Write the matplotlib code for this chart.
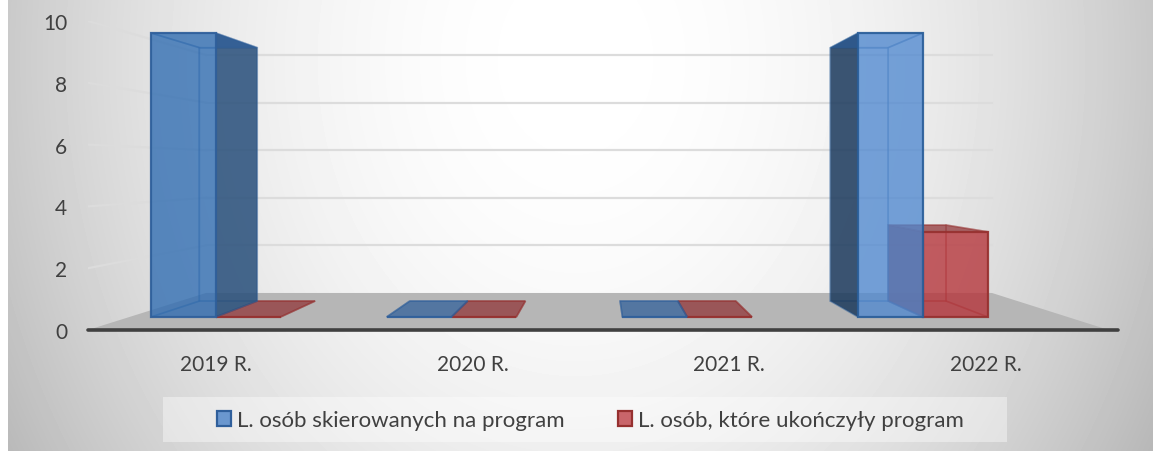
import matplotlib
matplotlib.use("Agg")
import matplotlib.pyplot as plt
import numpy as np
from matplotlib.patches import Patch, Polygon, Rectangle

plt.rcParams["font.family"] = ["Lato", "DejaVu Sans"]

# Data
categories = ["2019 R.", "2020 R.", "2021 R.", "2022 R."]
skierowani = [10, 0, 0, 10]
ukonczyli = [0, 0, 0, 3]
y_ticks = [0, 2, 4, 6, 8, 10]
series_names = ["L. osób skierowanych na program", "L. osób, które ukończyły program"]

W, H = 1153, 452
TEXT = "#404040"

# Perspective: everything shrinks towards a vanishing point (in axes data units)
VP_X, VP_Y = 2.0, 5.21
S_WALL = 0.77
S_BAR_FRONT = 0.919
S_BAR_BACK = 0.82
BAR_W = 0.275
GROUP_OFFSET = 0.366


def project(x, v, s):
    return (VP_X + (x - VP_X) * s, VP_Y + (v - VP_Y) * s)


def draw_bar(ax, x0, value, front, side, top, edge):
    x1 = x0 + BAR_W
    fr = [project(x, v, S_BAR_FRONT) for x, v in [(x0, 0), (x1, 0), (x1, value), (x0, value)]]
    bk = [project(x, v, S_BAR_BACK) for x, v in [(x0, 0), (x1, 0), (x1, value), (x0, value)]]
    left = [fr[0], bk[0], bk[3], fr[3]]
    right = [fr[1], bk[1], bk[2], fr[2]]
    near, far = (right, left) if x1 < VP_X else (left, right)
    roof = [fr[3], fr[2], bk[2], bk[3]]
    faces = [
        (bk, front, 0.1),
        (far, front, 0.1),
        ([fr[0], fr[1], bk[1], bk[0]], front, 0.1),
        (near, side, 0.85),
    ]
    for pts, color, alpha in faces:
        ax.add_patch(Polygon(pts, closed=True, facecolor=color, edgecolor="none", alpha=alpha, zorder=3))
        ax.add_patch(Polygon(pts, closed=True, fill=False, edgecolor=edge, lw=1.2, alpha=0.3, zorder=3))

    # roof: when it is above eye level only the part outside the front face looks dark
    dark = Polygon(roof, closed=True, facecolor=top, edgecolor="none", alpha=0.7, zorder=3)
    ax.add_patch(dark)
    if value > VP_Y:
        dark.set_alpha(0.7)
        if x1 < VP_X:
            clip = Rectangle((fr[2][0], 0), 1, 10, transform=ax.transData)
        else:
            clip = Rectangle((fr[3][0] - 1, 0), 1, 10, transform=ax.transData)
        dark.set_clip_path(clip)
        ax.add_patch(Polygon(roof, closed=True, facecolor=top, edgecolor="none", alpha=0.12, zorder=3))
    ax.add_patch(Polygon(roof, closed=True, fill=False, edgecolor=edge, lw=1.2, alpha=0.4, zorder=3))

    ax.add_patch(Polygon(fr, closed=True, facecolor=front, edgecolor="none", alpha=0.75, zorder=3))
    ax.add_patch(Polygon(fr, closed=True, fill=False, edgecolor=edge, lw=1.6, alpha=0.9, zorder=3))


fig = plt.figure(figsize=(W / 100, H / 100), dpi=100, facecolor="white")

# Background gradient
bg = fig.add_axes([0, 0, 1, 1], zorder=0)
yy, xx = np.mgrid[0:H, 0:W]
r = np.sqrt(((xx - 575) / 570.0) ** 2 + ((yy - 60) / 700.0) ** 2)
shade = np.clip(1 - 0.21 * r ** 2, 0, 1)
shade[:, :8] = 1
bg.imshow(shade, cmap="gray", vmin=0, vmax=1, extent=(0, W, H, 0), aspect="auto")
bg.add_patch(Rectangle((163, 398), 844, 45, facecolor="white", alpha=0.4, edgecolor="none"))
bg.axis("off")

# Main axes
ax = fig.add_axes([88 / W, 1 - 331 / H, (1118 - 88) / W, 309 / H], zorder=1)
ax.patch.set_alpha(0)
ax.set_xlim(0, 4.016)
ax.set_ylim(0, 10)
for name in ["top", "right", "left"]:
    ax.spines[name].set_visible(False)
ax.spines["bottom"].set_linewidth(2.6)
ax.spines["bottom"].set_color("#404040")
ax.spines["bottom"].set_capstyle("round")
ax.set_xticks(np.arange(len(categories)) + 0.5)
ax.set_xticklabels(categories)
ax.set_yticks(y_ticks)
ax.tick_params(axis="x", length=0, pad=17, labelsize=15, labelcolor=TEXT)
ax.tick_params(axis="y", length=0, pad=15, labelsize=15, labelcolor=TEXT)

# Floor
floor = [project(0, 0, 1), project(3.98, 0, 1), project(3.98, 0, S_WALL), project(0, 0, S_WALL)]
ax.add_patch(Polygon(floor, closed=True, facecolor="#b6b6b6", edgecolor="none", zorder=1))

# Gridlines on the back wall and the left wall
for v in y_ticks[1:]:
    xb0, yb = project(0, v, S_WALL)
    xb1, _ = project(3.98, v, S_WALL)
    ax.plot([xb0, xb1], [yb, yb], color="#dcdcdc", lw=1.6, zorder=2)
    xs, ys = project(0, v, 1)
    ax.plot([xs, xb0], [ys, yb], color="#dcdcdc", lw=1.6, zorder=2)

# Bars, red first so that the blue one sits over it
red_style = dict(front="#b53238", side="#8c2f30", top="#8f3436", edge="#96302f")
for i in range(len(categories)):
    x_blue = i + GROUP_OFFSET - BAR_W
    if i == 3:
        blue_style = dict(front="#4f88d0", side="#1d3a5c", top="#2b5a94", edge="#2a5e99")
    else:
        blue_style = dict(front="#2d6bb1", side="#2a507b", top="#2f5f99", edge="#2f5f9b")
    draw_bar(ax, x_blue + BAR_W, ukonczyli[i], **red_style)
    draw_bar(ax, x_blue, skierowani[i], **blue_style)

# Legend
handles = [
    Patch(facecolor="#6a97cf", edgecolor="#2f5f9b", lw=1.6, label=series_names[0]),
    Patch(facecolor="#c9656a", edgecolor="#96302f", lw=1.6, label=series_names[1]),
]
fig.legend(handles=handles, loc="center", bbox_to_anchor=(590 / W, 1 - 421 / H), ncol=2,
           frameon=False, fontsize=16, labelcolor=TEXT, handlelength=0.65, handleheight=0.65,
           handletextpad=0.25, columnspacing=2.4)

fig.savefig("out.png", dpi=100)
